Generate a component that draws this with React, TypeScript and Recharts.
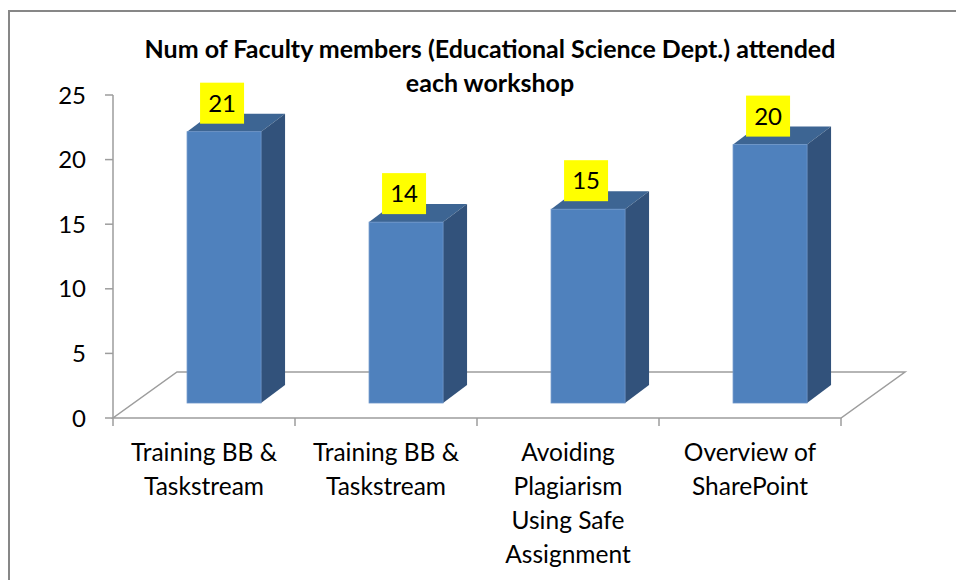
import { BarChart, Bar, XAxis, YAxis, LabelList, Customized } from "recharts"
import * as R from "recharts"

const categories = [
  "Training BB & Taskstream",
  "Training BB & Taskstream",
  "Avoiding Plagiarism Using Safe Assignment",
  "Overview of SharePoint",
]
const categoryLines = [
  ["Training BB &", "Taskstream"],
  ["Training BB &", "Taskstream"],
  ["Avoiding", "Plagiarism", "Using Safe", "Assignment"],
  ["Overview of", "SharePoint"],
]
const attended = [21, 14, 15, 20]
const yTicks = [0, 5, 10, 15, 20, 25]
const titleLines = ["Num of Faculty members (Educational Science Dept.) attended", "each workshop"]

const chartData = categories.map((name, i) => ({ name, attended: attended[i], idx: i }))

// fake 3d offsets (pixels)
const FLOOR_DX = 64
const FLOOR_DY = -46
const BAR_SHIFT_X = 20
const BAR_SHIFT_Y = -15
const BAR_DX = 24
const BAR_DY = -18

const FONT = "Lato, 'Open Sans', sans-serif"
const AXIS_GRAY = "#9d9d9d"

const usePlot: () => any =
  (R as any).usePlotArea ??
  (() => {
    const o = (R as any).useOffset?.()
    return o ? { x: o.left, y: o.top, width: o.width, height: o.height } : null
  })

const Floor = () => {
  const area = usePlot()
  if (!area) return null
  const { x, y, width, height } = area
  const bottom = y + height
  const n = categories.length
  const pts = [
    [x, bottom],
    [x + width, bottom],
    [x + width + FLOOR_DX, bottom + FLOOR_DY],
    [x + FLOOR_DX, bottom + FLOOR_DY],
  ]
  return (
    <g>
      <polygon points={pts.map((p) => p.join(",")).join(" ")} fill="#fff" stroke={AXIS_GRAY} strokeWidth={1.5} />
      {Array.from({ length: n + 1 }, (_, i) => {
        const tx = x + (i * width) / n
        return <line key={i} x1={tx} x2={tx} y1={bottom} y2={bottom + 8} stroke={AXIS_GRAY} strokeWidth={1.5} />
      })}
    </g>
  )
}

const Bar3D = (props: any) => {
  const { x, y, width, height } = props
  const fx = x + BAR_SHIFT_X
  const fy = y + BAR_SHIFT_Y
  const top = [
    [fx, fy],
    [fx + BAR_DX, fy + BAR_DY],
    [fx + width + BAR_DX, fy + BAR_DY],
    [fx + width, fy],
  ]
  const side = [
    [fx + width, fy],
    [fx + width + BAR_DX, fy + BAR_DY],
    [fx + width + BAR_DX, fy + height + BAR_DY],
    [fx + width, fy + height],
  ]
  return (
    <g>
      <polygon points={top.map((p) => p.join(",")).join(" ")} fill="#3d6593" />
      <polygon points={side.map((p) => p.join(",")).join(" ")} fill="#32527b" />
      <rect x={fx} y={fy} width={width} height={height} fill="#4f81bd" stroke="#6c94c8" strokeWidth={0.8} />
    </g>
  )
}

const ValueTag = (props: any) => {
  const { x, y, width, value } = props
  const cx = x + BAR_SHIFT_X + width / 2 - 2
  const bottom = y + BAR_SHIFT_Y - 8
  return (
    <g>
      <rect x={cx - 22} y={bottom - 41} width={44} height={41} fill="#ffff00" />
      <text x={cx} y={bottom - 20.5} dy="0.36em" textAnchor="middle" fontSize={24} fontFamily={FONT} fill="#000">
        {value}
      </text>
    </g>
  )
}

const CategoryTick = (props: any) => {
  const { x, y, index } = props
  const lines = categoryLines[index] ?? []
  return (
    <g>
      {lines.map((line, i) => (
        <text key={i} x={x} y={y + 34 + i * 34} dy="0.36em" textAnchor="middle" fontSize={24.5} fontFamily={FONT} fill="#000">
          {line}
        </text>
      ))}
    </g>
  )
}

export default function App() {
  return (
    <div style={{ position: "absolute", left: 0, top: 0, width: 956, height: 580, overflow: "hidden", background: "#fff" }}>
      <div
        style={{
          position: "absolute",
          left: 8,
          top: 10,
          width: 1000,
          height: 1000,
          borderLeft: "2px solid #878787",
          borderTop: "2px solid #878787",
        }}
      />
      <div
        style={{
          position: "absolute",
          left: 40,
          width: 900,
          top: 31,
          textAlign: "center",
          fontFamily: FONT,
          fontWeight: 700,
          fontSize: 25,
          lineHeight: "34px",
          color: "#000",
          whiteSpace: "nowrap",
        }}
      >
        {titleLines.map((t, i) => (
          <div key={i}>{t}</div>
        ))}
      </div>
      <div style={{ position: "absolute", left: 0, top: 0 }}>
        <BarChart
          width={956}
          height={580}
          data={chartData}
          margin={{ top: 95, right: 115, bottom: 0, left: 0 }}
          barCategoryGap="29.7%"
        >
          <Customized component={Floor} />
          <YAxis
            width={113}
            domain={[0, 25]}
            ticks={yTicks}
            interval={0}
            tickSize={8}
            tickMargin={19}
            axisLine={{ stroke: AXIS_GRAY, strokeWidth: 1.5 }}
            tickLine={{ stroke: AXIS_GRAY, strokeWidth: 1.5 }}
            tick={{ fill: "#000", fontSize: 24, fontFamily: FONT }}
          />
          <XAxis
            dataKey="name"
            height={162}
            interval={0}
            axisLine={false}
            tickLine={false}
            tickSize={0}
            tickMargin={0}
            tick={<CategoryTick />}
          />
          <Bar dataKey="attended" shape={<Bar3D />} isAnimationActive={false}>
            <LabelList dataKey="attended" content={<ValueTag />} />
          </Bar>
        </BarChart>
      </div>
    </div>
  )
}
